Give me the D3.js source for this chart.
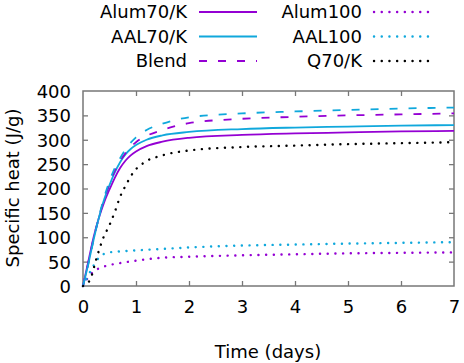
<!DOCTYPE html>
<html>
<head>
<meta charset="utf-8">
<script src="https://cdn.jsdelivr.net/npm/d3@7"></script>
<style>
  body { margin: 0; background: #fff; }
  text { font-family: 'DejaVu Sans', sans-serif; fill: #000; }
</style>
</head>
<body>
<svg id="chart" width="464" height="363" viewBox="0 0 464 363"></svg>
<script>
// time in days
const alum70Days = [0, 0.1, 0.2, 0.3, 0.4, 0.5, 0.6, 0.7, 0.8, 0.9, 1.0, 1.2, 1.5, 2, 3, 4, 5, 6, 7];
const alum70 = [0, 50, 100, 140, 172, 198, 222, 242, 257, 268, 276, 287, 296, 304, 310, 313, 315, 317, 318];
const aal70 = [0, 45, 95, 140, 178, 207, 233, 254, 270, 281, 289, 300, 309, 316, 322, 325, 327, 329, 330];
const blendAlum = [0, 48, 98, 140, 178, 210, 236, 256, 272, 285, 295, 308, 320, 334, 343, 347, 350, 352, 354];
const blendAal = [0, 45, 95, 142, 182, 215, 242, 262, 280, 294, 305, 320, 333, 346, 354, 358, 361, 364, 366];

const q70Days = [0, 0.13, 0.25, 0.38, 0.5, 0.6, 0.7, 0.8, 0.95, 1.15, 1.5, 2, 3, 4, 5, 6, 7];
const q70 = [0, 12, 55, 98, 125, 152, 183, 205, 233, 253, 268, 278, 285, 288, 291, 293, 295];

const day100 = [0, 0.1, 0.2, 0.3, 0.4, 0.5, 0.7, 1, 1.5, 2, 3, 4, 5, 6, 7];
const aal100 = [0, 22, 42, 58, 66, 69, 71, 73, 76, 79, 83, 85, 87, 88.5, 90];
const alum100 = [0, 18, 30, 36, 40, 43, 47, 52, 58, 60, 63, 65, 67, 68, 69];

const xTicks = [0, 1, 2, 3, 4, 5, 6, 7];
const yTicks = [0, 50, 100, 150, 200, 250, 300, 350, 400];

const violet = '#9400d3';
const cyan = '#10a8dc';
const DOT = '0.1,7.6';
const DASH = '8,11';

const series = [
  { name: 'Alum70/K', days: alum70Days, vals: alum70, color: violet, dash: null, legend: true },
  { name: 'AAL70/K', days: alum70Days, vals: aal70, color: cyan, dash: null, legend: true },
  { name: 'Blend', days: alum70Days, vals: blendAlum, color: violet, dash: DASH, legend: true },
  { name: 'Blend AAL', days: alum70Days, vals: blendAal, color: cyan, dash: DASH, legend: false },
  { name: 'Alum100', days: day100, vals: alum100, color: violet, dash: DOT, legend: true },
  { name: 'AAL100', days: day100, vals: aal100, color: cyan, dash: DOT, legend: true },
  { name: 'Q70/K', days: q70Days, vals: q70, color: '#000', dash: DOT, legend: true }
];

const svg = d3.select('#chart');
const margins = { top: 91, right: 10, bottom: 77, left: 83 };
const width = 464 - margins.left - margins.right;
const height = 363 - margins.top - margins.bottom;

const g = svg.append('g').attr('transform', 'translate(' + margins.left + ',' + margins.top + ')');

const x = d3.scaleLinear().domain([0, 7]).range([0, width]);
const y = d3.scaleLinear().domain([0, 400]).range([height, 0]);

const tickColor = '#777';
const tl = 5;

// axes with inward ticks, mirrored
const axBottom = g.append('g').attr('transform', 'translate(0,' + height + ')')
  .call(d3.axisBottom(x).tickValues(xTicks).tickSize(-tl).tickPadding(14).tickFormat(d3.format('d')));
const axTop = g.append('g')
  .call(d3.axisTop(x).tickValues(xTicks).tickSize(-tl).tickFormat(''));
const axLeft = g.append('g')
  .call(d3.axisLeft(y).tickValues(yTicks).tickSize(-tl).tickPadding(12).tickFormat(d3.format('d')));
const axRight = g.append('g').attr('transform', 'translate(' + width + ',0)')
  .call(d3.axisRight(y).tickValues(yTicks).tickSize(-tl).tickFormat(''));

[axBottom, axTop, axLeft, axRight].forEach(a => {
  a.select('.domain').remove();
  a.selectAll('line').attr('stroke', tickColor).attr('stroke-width', 1.3);
  a.selectAll('text').attr('font-size', 18).attr('font-family', 'DejaVu Sans');
});
axBottom.selectAll('.tick').filter(d => d === 0 || d === 7).select('line').remove();
axTop.selectAll('.tick').filter(d => d === 0 || d === 7).select('line').remove();
axLeft.selectAll('.tick').filter(d => d === 0 || d === 400).select('line').remove();
axRight.selectAll('.tick').filter(d => d === 0 || d === 400).select('line').remove();
axLeft.selectAll('text').attr('dy', '0.36em');

g.append('rect').attr('width', width).attr('height', height)
  .attr('fill', 'none').attr('stroke', tickColor).attr('stroke-width', 1.5);

const line = d3.line().x(d => x(d[0])).y(d => y(d[1])).curve(d3.curveMonotoneX);

function styleStroke(sel, s) {
  sel.attr('fill', 'none')
    .attr('stroke', s.color)
    .attr('stroke-width', s.dash === DOT ? 2.4 : 1.8)
    .attr('stroke-linecap', s.dash === DOT ? 'round' : 'butt')
    .attr('stroke-dasharray', s.dash);
}

series.forEach(s => {
  const pts = s.days.map((d, i) => [d, s.vals[i]]);
  g.append('path').datum(pts).attr('d', line).call(styleStroke, s);
});

// axis titles
svg.append('text').attr('x', 268).attr('y', 358).attr('text-anchor', 'middle')
  .attr('font-size', 18).text('Time (days)');
svg.append('text').attr('transform', 'translate(19,188) rotate(-90)').attr('text-anchor', 'middle')
  .attr('font-size', 18).text('Specific heat (J/g)');

// legend, two columns of three
const legendItems = series.filter(s => s.legend);
const leg = svg.append('g');
legendItems.forEach((s, i) => {
  const col = Math.floor(i / 3);
  const row = i % 3;
  const tx = col === 0 ? 187 : 362;
  const yy = 12 + row * 24.5;
  leg.append('text').attr('x', tx).attr('y', yy).attr('dy', '0.36em')
    .attr('text-anchor', 'end').attr('font-size', 18).text(s.name);
  leg.append('line').attr('x1', tx + 12).attr('x2', tx + 70).attr('y1', yy).attr('y2', yy)
    .call(styleStroke, s);
});
</script>
</body>
</html>
